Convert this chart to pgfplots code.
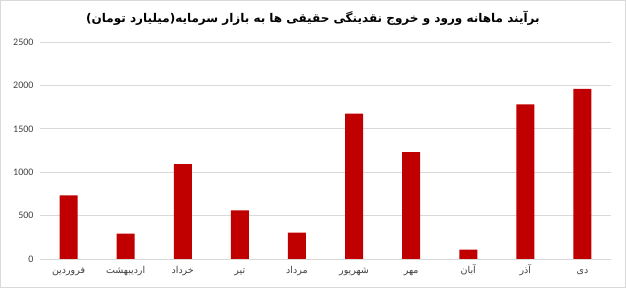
\documentclass[border=0pt]{standalone}
\usepackage{fontspec}
\setmainfont{Carlito}
\newfontfamily\arabicfont[Script=Arabic]{DejaVu Sans}
\TeXXeTstate=1
\usepackage{pgfplots}
\pgfplotsset{compat=1.18}
\definecolor{barred}{HTML}{C00000}
\definecolor{gridgray}{HTML}{D9D9D9}
\definecolor{ticktext}{HTML}{404040}
\begin{document}
\begin{tikzpicture}
\useasboundingbox (-40pt,-29pt) rectangle (586pt,259pt);
\draw[gridgray, line width=0.8pt] (-39.6pt,-28.6pt) rectangle (585.6pt,258.6pt);
\begin{axis}[
  at={(0pt,0pt)}, anchor=south west,
  scale only axis, width=571pt, height=217pt,
  ymin=0, ymax=2500, xmin=-0.5, xmax=9.5,
  ytick={0,500,1000,1500,2000,2500},
  xtick={0,...,9},
  xticklabels={
    {\arabicfont\beginR فروردین\endR},
    {\arabicfont\beginR اردیبهشت\endR},
    {\arabicfont\beginR خرداد\endR},
    {\arabicfont\beginR تیر\endR},
    {\arabicfont\beginR مرداد\endR},
    {\arabicfont\beginR شهریور\endR},
    {\arabicfont\beginR مهر\endR},
    {\arabicfont\beginR آبان\endR},
    {\arabicfont\beginR آذر\endR},
    {\arabicfont\beginR دی\endR}},
  ymajorgrids, grid style={gridgray, line width=0.8pt},
  axis x line*=bottom, axis y line*=left,
  x axis line style={gridgray, line width=0.8pt, -},
  y axis line style={draw=none},
  major tick length=0pt,
  tick label style={text=ticktext},
  yticklabel style={font=\fontsize{10}{12}\selectfont, xshift=-3pt},
  xticklabel style={font=\fontsize{9.5}{11}\selectfont, anchor=base, yshift=-15pt},
  /pgf/number format/assume math mode=true,
  /pgf/number format/1000 sep={},
  ybar, bar width=18pt,
  clip=false,
]
\addplot[fill=barred, draw=none] coordinates {
  (0,733) (1,293) (2,1093) (3,560) (4,305)
  (5,1676) (6,1232) (7,108) (8,1780) (9,1961)
};
\end{axis}
\node[font=\arabicfont\bfseries\fontsize{12}{14}\selectfont, text=black] at (273pt,241pt)
  {\beginR برآیند ماهانه ورود و خروج نقدینگی حقیقی ها به بازار سرمایه(میلیارد تومان)\endR};
\end{tikzpicture}
\end{document}
